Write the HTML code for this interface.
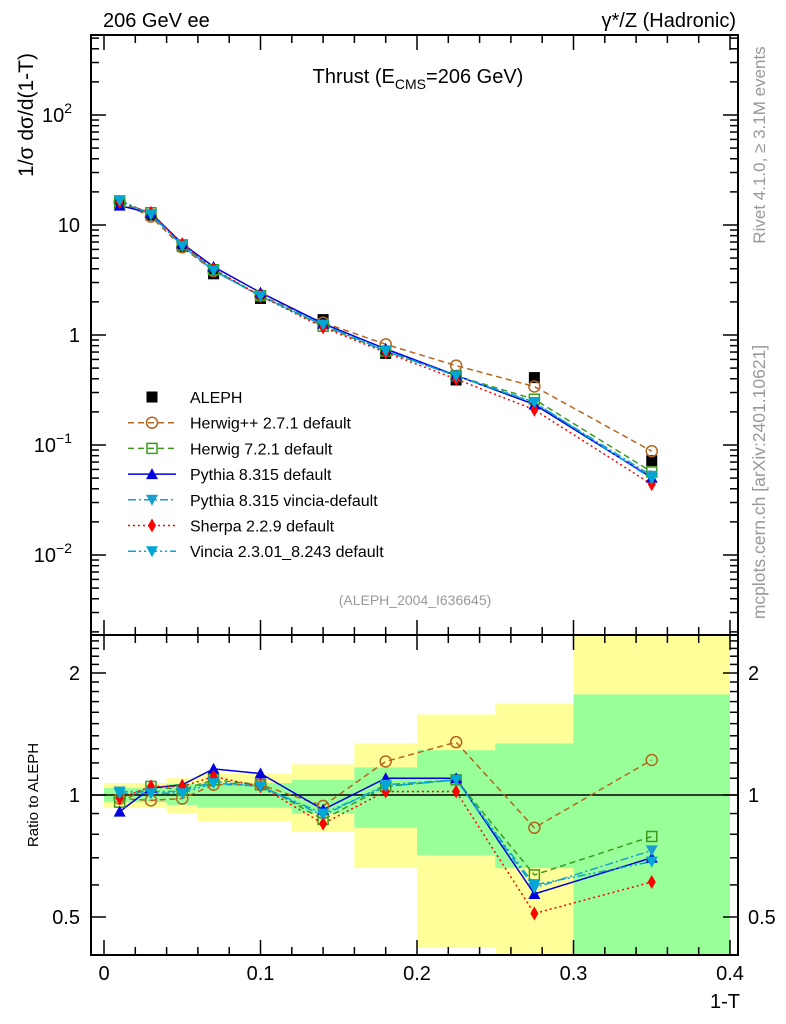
<!DOCTYPE html>
<html><head><meta charset="utf-8"><style>
body{margin:0;background:#fff}
svg{display:block;font-family:"Liberation Sans",sans-serif}
</style></head><body>
<svg id="c" width="786" height="1024" viewBox="0 0 786 1024">
<text x="103" y="27" font-size="20">206 GeV ee</text>
<text x="736" y="27" font-size="20" text-anchor="end">γ*/Z (Hadronic)</text>
<text x="418" y="83" font-size="20" text-anchor="middle">Thrust (E<tspan font-size="14" dy="6">CMS</tspan><tspan dy="-6">=206 GeV)</tspan></text>
<text transform="translate(33,115) rotate(-90)" font-size="21" text-anchor="middle">1/σ  dσ/d(1-T)</text>
<text transform="translate(765,145) rotate(-90)" font-size="17" fill="#999" text-anchor="middle">Rivet 4.1.0, ≥ 3.1M events</text>
<text transform="translate(765,482) rotate(-90)" font-size="17.5" fill="#999" text-anchor="middle">mcplots.cern.ch [arXiv:2401.10621]</text>
<text x="415" y="605" font-size="14" fill="#999" text-anchor="middle">(ALEPH_2004_I636645)</text>
<text transform="translate(38,795) rotate(-90)" font-size="15" text-anchor="middle">Ratio to ALEPH</text>
<text x="740" y="1008" font-size="20" text-anchor="end">1-T</text>
<g id="g"></g>
</svg>
<script>
const binLo=[0,0.02,0.04,0.06,0.08,0.12,0.16,0.2,0.25,0.3];
const binHi=[0.02,0.04,0.06,0.08,0.12,0.16,0.2,0.25,0.3,0.4];
const xCenters=[0.01,0.03,0.05,0.07,0.1,0.14,0.18,0.225,0.275,0.35];
const aleph=[16.5,12.3,6.4,3.6,2.15,1.38,0.68,0.39,0.41,0.072];
const totHi=[1.07,1.07,1.10,1.13,1.13,1.19,1.34,1.58,1.68,3];
const totLo=[0.93,0.93,0.90,0.86,0.86,0.81,0.66,0.42,0.3,0.3];
const statHi=[1.04,1.04,1.065,1.07,1.07,1.09,1.17,1.29,1.34,1.77];
const statLo=[0.96,0.96,0.945,0.93,0.93,0.90,0.83,0.71,0.66,0.3];
const rHerwigpp=[0.98,0.97,0.98,1.06,1.06,0.94,1.21,1.35,0.83,1.22];
const rHerwig7=[0.96,1.05,1.03,1.09,1.06,0.87,1.05,1.09,0.635,0.79];
const rPythia=[0.91,1.04,1.06,1.16,1.13,0.92,1.10,1.10,0.57,0.70];
const rPyVincia=[1.02,1.02,1.02,1.08,1.05,0.89,1.06,1.09,0.59,0.73];
const rSherpa=[0.98,1.05,1.05,1.11,1.05,0.85,1.02,1.02,0.51,0.61];
const rVincia=[1.01,1.01,1.01,1.07,1.05,0.90,1.05,1.09,0.60,0.685];
const legendLabels=["ALEPH","Herwig++ 2.7.1 default","Herwig 7.2.1 default","Pythia 8.315 default","Pythia 8.315 vincia-default","Sherpa 2.2.9 default","Vincia 2.3.01_8.243 default"];

const NS="http://www.w3.org/2000/svg";
const G=document.getElementById('g');
const L=91,R=738,T=35,M=635,B=955;
const X=v=>104+v*1565;
const YM=v=>335-110*Math.log10(v);
const YR=v=>795-122*Math.log2(v);
const clampR=y=>Math.max(M,Math.min(B,y));
function el(t,a,p){const e=document.createElementNS(NS,t);for(const k in a)e.setAttribute(k,a[k]);(p||G).appendChild(e);return e;}

for(let i=0;i<binLo.length;i++){
  const y=el('rect',{x:X(binLo[i]),width:X(binHi[i])-X(binLo[i]),y:clampR(YR(totHi[i])),height:clampR(YR(totLo[i]))-clampR(YR(totHi[i])),fill:'#ffff99'});
  
  
  const g2=el('rect',{x:X(binLo[i]),width:X(binHi[i])-X(binLo[i]),y:clampR(YR(statHi[i])),height:clampR(YR(statLo[i]))-clampR(YR(statHi[i])),fill:'#99ff99'});
  
  
}
const one=el('line',{x1:L,x2:R,y1:YR(1),y2:YR(1),stroke:'#000','stroke-width':1.5});



for(const [y1,y2] of [[T,M],[M,B]]){const f=el('rect',{x:L,y:y1,width:R-L,height:y2-y1,fill:'none',stroke:'#000','stroke-width':2});

}

for(let k=0;k<=20;k++){const v=k*0.02,x=X(v),maj=k%5==0,len=maj?15:8;
  for(const [y,d] of [[T,1],[M,-1],[M,1],[B,-1]]) el('line',{x1:x,x2:x,y1:y,y2:y+d*len,stroke:'#000','stroke-width':1.5});
  if(maj){const t=el('text',{x:x,y:980,'font-size':20,'text-anchor':'middle'});t.textContent=(k==0?'0':(v).toFixed(1));
  
  }
}
for(let d=-3;d<=2;d++)for(let m=1;m<=9;m++){const v=m*Math.pow(10,d),y=YM(v);if(y<T||y>M)continue;const len=m==1?15:8;
  el('line',{x1:L,x2:L+len,y1:y,y2:y,stroke:'#000','stroke-width':1.5});el('line',{x1:R,x2:R-len,y1:y,y2:y,stroke:'#000','stroke-width':1.5});}
const ylabs=[[2,'10','2'],[1,'10',''],[0,'1',''],[-1,'10','−1'],[-2,'10','−2']];
for(const [d,b,s] of ylabs){const t=el('text',{x:s?72:80,y:YM(Math.pow(10,d))+7,'font-size':20,'text-anchor':'end'});t.textContent=b;
 
 
 if(s){const sp=el('tspan',{'font-size':14,dy:-9},t);sp.textContent=s;}}
for(let k=5;k<=24;k++){const v=k/10,y=YR(v);if(y<M||y>B)continue;const maj=(k==5||k==10||k==20),len=maj?15:8;
  el('line',{x1:L,x2:L+len,y1:y,y2:y,stroke:'#000','stroke-width':1.5});el('line',{x1:R,x2:R-len,y1:y,y2:y,stroke:'#000','stroke-width':1.5});
  if(maj){for(const [x,a] of [[80,'end'],[748,'start']]){const t=el('text',{x:x,y:y+7,'font-size':20,'text-anchor':a});t.textContent=(k==5?'0.5':String(k/10));
  
  }}}

function marker(type,x,y,c,name){let m;
  if(type=='sq') m=el('rect',{x:x-5.5,y:y-5.5,width:11,height:11,fill:'#000'});
  else if(type=='osq') m=el('rect',{x:x-5,y:y-5,width:10,height:10,fill:'none',stroke:c,'stroke-width':1.5});
  else if(type=='oc') m=el('circle',{cx:x,cy:y,r:5.5,fill:'none',stroke:c,'stroke-width':1.5});
  else if(type=='up') m=el('polygon',{points:`${x},${y-6} ${x-6},${y+5} ${x+6},${y+5}`,fill:c});
  else if(type=='dn') m=el('polygon',{points:`${x},${y+6} ${x-6},${y-5} ${x+6},${y-5}`,fill:c});
  else m=el('polygon',{points:`${x},${y-7} ${x-4},${y} ${x},${y+7} ${x+4},${y}`,fill:c});
  
  
}
const series=[
 {r:rHerwigpp,c:'#b5651d',d:'6,4',m:'oc',n:'herwigpp'},
 {r:rHerwig7,c:'#3d9a1e',d:'6,4',m:'osq',n:'herwig7'},
 {r:rPythia,c:'#0000e0',d:'',m:'up',n:'pythia'},
 {r:rPyVincia,c:'#1a9fcf',d:'8,3,2,3',m:'dn',n:'pythia-vincia'},
 {r:rSherpa,c:'#ff0000',d:'2,3',m:'di',n:'sherpa'},
 {r:rVincia,c:'#00a6d6',d:'8,3,2,3,2,3',m:'dn',n:'vincia'}];
for(const s of series){
  const main=xCenters.map((x,i)=>`${X(x)},${YM(aleph[i]*s.r[i])}`).join(' ');
  const rat=xCenters.map((x,i)=>`${X(x)},${YR(s.r[i])}`).join(' ');
  const l1=el('polyline',{points:main,fill:'none',stroke:s.c,'stroke-width':1.5,'stroke-dasharray':s.d});
  
  
  const l2=el('polyline',{points:rat,fill:'none',stroke:s.c,'stroke-width':1.5,'stroke-dasharray':s.d});
  
  
}
xCenters.forEach((x,i)=>marker('sq',X(x),YM(aleph[i]),'#000','aleph-point'));
for(const s of series){xCenters.forEach((x,i)=>{marker(s.m,X(x),YM(aleph[i]*s.r[i]),s.c,s.n+'-point');marker(s.m,X(x),YR(s.r[i]),s.c,s.n+'-ratio-point');});}

const legTypes=['sq','oc','osq','up','dn','di','dn'];
legendLabels.forEach((lab,i)=>{const y=397+i*25.7;
  if(i>0){const s=series[i-1];const ln=el('line',{x1:128,x2:176,y1:y,y2:y,stroke:s.c,'stroke-width':1.5,'stroke-dasharray':s.d});
   
   }
  marker(legTypes[i],152,y,i>0?series[i-1].c:'#000','legend-marker');
  const t=el('text',{x:190,y:y+6,'font-size':16});t.textContent=lab;
  
  
});
</script>
</body></html>
